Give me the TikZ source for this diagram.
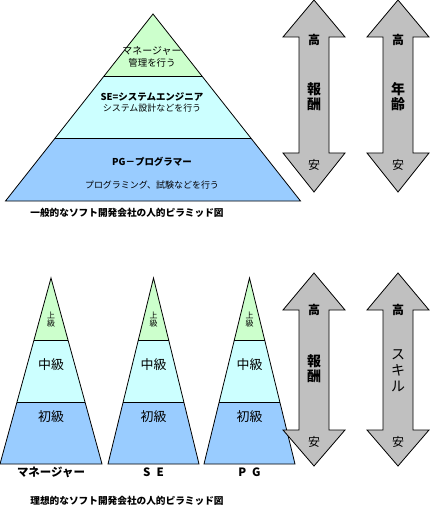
\documentclass[tikz,border=0pt]{standalone}
\usepackage{fontspec}
\setmainfont{Noto Sans CJK JP}
\usetikzlibrary{calc}
\definecolor{lgreen}{HTML}{CCFFCC}
\definecolor{lcyan}{HTML}{CCFFFF}
\definecolor{lblue}{HTML}{99CCFF}
\definecolor{agray}{HTML}{C0C0C0}
\newcommand\fs[1]{\fontsize{#1}{#1}\selectfont}
\newcommand\drawpyramid[5]{%
  \coordinate (#1a) at (#2,#3);
  \coordinate (#1l) at (#2-#5,#4);
  \coordinate (#1r) at (#2+#5,#4);
  \coordinate (#1ul) at ($(#1a)!1/3!(#1l)$);
  \coordinate (#1ur) at ($(#1a)!1/3!(#1r)$);
  \coordinate (#1ml) at ($(#1a)!2/3!(#1l)$);
  \coordinate (#1mr) at ($(#1a)!2/3!(#1r)$);
  \fill[lgreen] (#1a) -- (#1ur) -- (#1ul) -- cycle;
  \fill[lcyan] (#1ul) -- (#1ur) -- (#1mr) -- (#1ml) -- cycle;
  \fill[lblue] (#1ml) -- (#1mr) -- (#1r) -- (#1l) -- cycle;
  \draw[outl] (#1a) -- (#1l) -- (#1r) -- cycle;
  \draw[outl] (#1ul) -- (#1ur);
  \draw[outl] (#1ml) -- (#1mr);
}
\newcommand\drawarrow[6]{%
  \draw[outl,fill=agray] (#2,#3) -- (#2+31,#4) -- (#2+15,#4) -- (#2+15,#5) -- (#2+31,#5)
    -- (#2,#6) -- (#2-31,#5) -- (#2-15,#5) -- (#2-15,#4) -- (#2-31,#4) -- cycle;
  \coordinate (#1) at (#2,#3);
}
\begin{document}
\begin{tikzpicture}[x=1bp,y=-1bp,
  outl/.style={draw=black,line width=0.8bp},
  txt/.style={inner sep=0pt,align=center}]
\useasboundingbox (0,0) rectangle (429,508);
\fill[white] (0,0) rectangle (429,508);

% top pyramid
\drawpyramid{tp}{153}{14}{201}{147.5}
\node[txt,font=\fs{10}] (t1) at (152,51) {マネージャー};
\node[txt,font=\fs{9.5}] (t2) at (152,63) {管理を行う};
\node[txt,font=\fs{9.5}\bfseries] (t3) at (152,97) {SE=システムエンジニア};
\node[txt,font=\fs{9}] (t4) at (152,108) {システム設計などを行う};
\node[txt,font=\fs{9.5}\bfseries] (t5) at (152,162) {PG－プログラマー};
\node[txt,font=\fs{9}] (t6) at (152,185) {プログラミング、試験などを行う};
\node[txt,font=\fs{9.7}\bfseries] (cap1) at (127,213) {一般的なソフト開発会社の人的ピラミッド図};

% top arrows
\drawarrow{a1}{314}{0}{37}{153}{192}
\drawarrow{a2}{398}{0}{37}{153}{192}
\node[txt,font=\fs{12}\bfseries] (a1h) at (314,40) {高};
\node[txt,font=\fs{14}\bfseries] (a1m) at (314,97) {報\\[1bp]酬};
\node[txt,font=\fs{12}] (a1l) at (314,165) {安};
\node[txt,font=\fs{12}\bfseries] (a2h) at (398,40) {高};
\node[txt,font=\fs{14}\bfseries] (a2m) at (398,97) {年\\[1bp]齢};
\node[txt,font=\fs{12}] (a2l) at (398,165) {安};

% bottom pyramids
\drawpyramid{p1}{51}{278}{464}{51}
\drawpyramid{p2}{153.5}{278}{464}{45.5}
\drawpyramid{p3}{249.5}{278}{464}{45.5}
\foreach \c/\n in {51/m,153.5/s,249.5/p}{
  \node[txt,font=\fs{8}] (\n u) at (\c,320) {上\\級};
  \node[txt,font=\fs{13}] (\n m) at (\c,365) {中級};
  \node[txt,font=\fs{13}] (\n b) at (\c,417) {初級};
}
\node[txt,font=\fs{11.5}\bfseries] (l1) at (51,472) {マネージャー};
\node[txt,font=\fs{11.5}\bfseries] (l2) at (153.5,472) {S\hspace{6bp}E};
\node[txt,font=\fs{11.5}\bfseries] (l3) at (249.5,472) {P\hspace{6bp}G};
\node[txt,font=\fs{9.7}\bfseries] (cap2) at (127,501) {理想的なソフト開発会社の人的ピラミッド図};

% bottom arrows
\drawarrow{b1}{314}{273}{310}{430}{466}
\drawarrow{b2}{398}{273}{310}{430}{466}
\node[txt,font=\fs{12}\bfseries] (b1h) at (314,310) {高};
\node[txt,font=\fs{14}\bfseries] (b1m) at (314,369) {報\\[1bp]酬};
\node[txt,font=\fs{12}] (b1l) at (314,442) {安};
\node[txt,font=\fs{12}\bfseries] (b2h) at (398,310) {高};
\node[txt,font=\fs{14}] (b2m) at (398,371) {ス\\[2bp]キ\\[2bp]ル};
\node[txt,font=\fs{12}] (b2l) at (398,442) {安};
\end{tikzpicture}
\end{document}
